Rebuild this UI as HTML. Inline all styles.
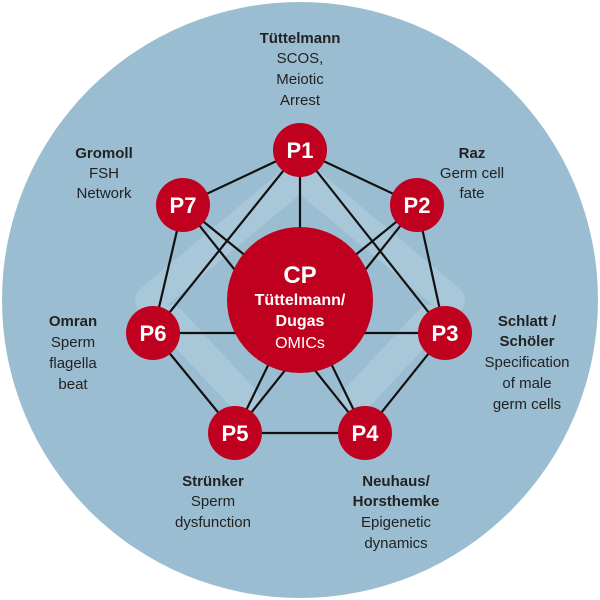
<!DOCTYPE html>
<html><head><meta charset="utf-8"><style>
html,body{margin:0;padding:0;background:#fff;}
svg{display:block;}
text{font-family:"Liberation Sans",sans-serif;}
</style></head><body>
<svg width="600" height="600" viewBox="0 0 600 600">
<circle cx="300" cy="300" r="298" fill="#9bbdd1"/>
<g fill="none" stroke="#b3d0e0" stroke-width="30" stroke-linejoin="round" stroke-linecap="round" opacity="0.55">
<polyline points="150,300 300,175 450,300"/>
<polyline points="170,320 245,400"/>
<polyline points="430,320 355,400"/>
</g>
<g stroke="#111" stroke-width="2.2">
<line x1="300" y1="150" x2="417" y2="205"/>
<line x1="417" y1="205" x2="445" y2="333"/>
<line x1="445" y1="333" x2="365" y2="433"/>
<line x1="365" y1="433" x2="235" y2="433"/>
<line x1="235" y1="433" x2="153" y2="333"/>
<line x1="153" y1="333" x2="183" y2="205"/>
<line x1="183" y1="205" x2="300" y2="150"/>
<line x1="300" y1="150" x2="300" y2="300"/>
<line x1="300" y1="150" x2="153" y2="333"/>
<line x1="300" y1="150" x2="445" y2="333"/>
<line x1="183" y1="205" x2="365" y2="433"/>
<line x1="183" y1="205" x2="300" y2="300"/>
<line x1="417" y1="205" x2="235" y2="433"/>
<line x1="417" y1="205" x2="300" y2="300"/>
<line x1="153" y1="333" x2="445" y2="333"/>
<line x1="235" y1="433" x2="300" y2="300"/>
<line x1="365" y1="433" x2="300" y2="300"/>
</g>
<g fill="#c0001f">
<circle cx="300" cy="300" r="73"/>
<circle cx="300" cy="150" r="27"/>
<circle cx="417" cy="205" r="27"/>
<circle cx="445" cy="333" r="27"/>
<circle cx="365" cy="433" r="27"/>
<circle cx="235" cy="433" r="27"/>
<circle cx="153" cy="333" r="27"/>
<circle cx="183" cy="205" r="27"/>
</g>
<g fill="#fff" font-weight="bold" font-size="22" text-anchor="middle">
<text x="300" y="158">P1</text>
<text x="417" y="213">P2</text>
<text x="445" y="341">P3</text>
<text x="365" y="441">P4</text>
<text x="235" y="441">P5</text>
<text x="153" y="341">P6</text>
<text x="183" y="213">P7</text>
<text x="300" y="283" font-size="24">CP</text>
<text x="300" y="305" font-size="16">Tüttelmann/</text>
<text x="300" y="326" font-size="16">Dugas</text>
<text x="300" y="348" font-size="16" font-weight="normal">OMICs</text>
</g>
<g fill="#222" font-size="15" text-anchor="middle">
<text x="300" y="43" font-weight="bold">Tüttelmann</text>
<text x="300" y="63">SCOS,</text>
<text x="300" y="84">Meiotic</text>
<text x="300" y="105">Arrest</text>
<text x="104" y="158" font-weight="bold">Gromoll</text>
<text x="104" y="178">FSH</text>
<text x="104" y="198">Network</text>
<text x="472" y="158" font-weight="bold">Raz</text>
<text x="472" y="178">Germ cell</text>
<text x="472" y="198">fate</text>
<text x="527" y="326" font-weight="bold">Schlatt /</text>
<text x="527" y="346" font-weight="bold">Schöler</text>
<text x="527" y="367">Specification</text>
<text x="527" y="388">of male</text>
<text x="527" y="409">germ cells</text>
<text x="73" y="326" font-weight="bold">Omran</text>
<text x="73" y="347">Sperm</text>
<text x="73" y="368">flagella</text>
<text x="73" y="389">beat</text>
<text x="213" y="486" font-weight="bold">Strünker</text>
<text x="213" y="506">Sperm</text>
<text x="213" y="527">dysfunction</text>
<text x="396" y="486" font-weight="bold">Neuhaus/</text>
<text x="396" y="506" font-weight="bold">Horsthemke</text>
<text x="396" y="527">Epigenetic</text>
<text x="396" y="548">dynamics</text>
</g>
</svg>
</body></html>
